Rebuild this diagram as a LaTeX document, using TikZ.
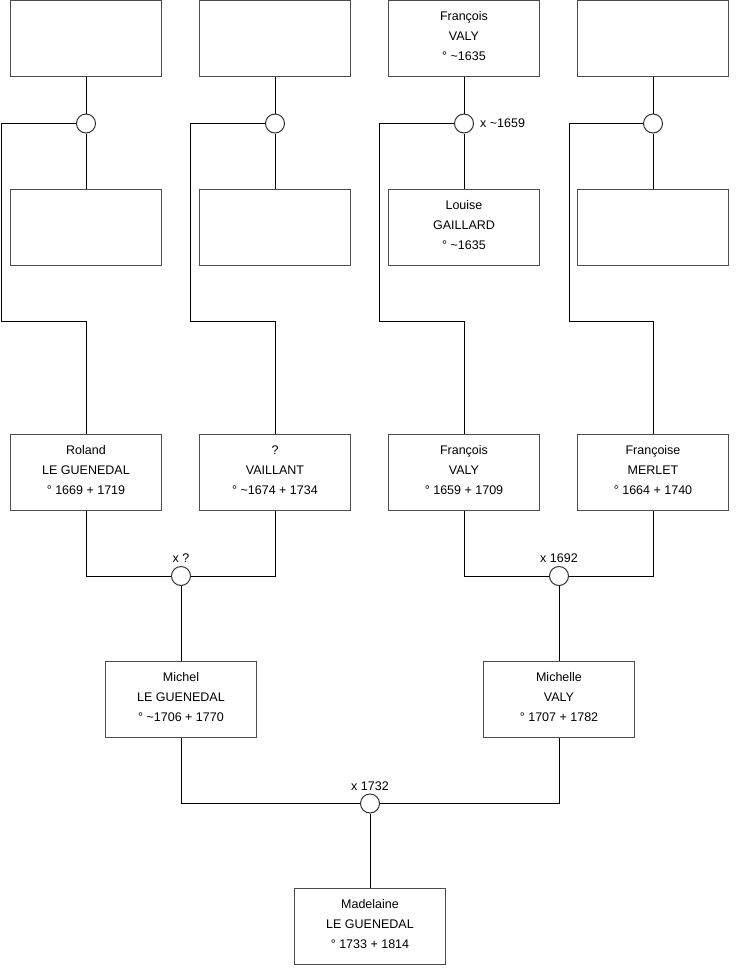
\documentclass[tikz,border=0pt]{standalone}
\usepackage{fontspec}
\setmainfont{Liberation Sans}
\begin{document}
\begin{tikzpicture}[x=1pt,y=-1pt,
  person/.style={draw=black!70, line width=1pt, fill=white, minimum width=151pt, minimum height=76pt, inner sep=0pt, align=center, text depth=5pt, font=\fontsize{12.5}{20}\selectfont},
  union/.style={circle, draw=black!80, line width=1pt, fill=white, minimum size=19pt, inner sep=0pt},
  link/.style={draw=black, line width=1pt},
  lbl/.style={inner sep=0pt, font=\fontsize{12.5}{14}\selectfont}]
\useasboundingbox (0,0) rectangle (740,975);
% top row
\node[person] (t1) at (86,38) {};
\node[person] (t2) at (275,38) {};
\node[person] (t3) at (464,38) {François\\VALY\\° \textasciitilde1635};
\node[person] (t4) at (653,38) {};
% second row
\node[person] (s1) at (86,227) {};
\node[person] (s2) at (275,227) {};
\node[person] (s3) at (464,227) {Louise\\GAILLARD\\° \textasciitilde1635};
\node[person] (s4) at (653,227) {};
% unions row 1
\node[union] (u1) at (86,123.5) {};
\node[union] (u2) at (275,123.5) {};
\node[union] (u3) at (464,123.5) {};
\node[union] (u4) at (653,123.5) {};
\node[lbl, anchor=west] (l3) at ([xshift=6pt]u3.east) {x \textasciitilde1659};
% third row
\node[person] (r1) at (86,472.5) {Roland\\LE GUENEDAL\\° 1669 + 1719};
\node[person] (r2) at (275,472.5) {?\\VAILLANT\\° \textasciitilde1674 + 1734};
\node[person] (r3) at (464,472.5) {François\\VALY\\° 1659 + 1709};
\node[person] (r4) at (653,472.5) {Françoise\\MERLET\\° 1664 + 1740};
% unions row 2
\node[union] (m1) at (181,576) {};
\node[union] (m2) at (559,576) {};
\node[lbl] (lm1) at (181,558) {x ?};
\node[lbl] (lm2) at (559,558) {x 1692};
% fourth row
\node[person] (c1) at (181,699.5) {Michel\\LE GUENEDAL\\° \textasciitilde1706 + 1770};
\node[person] (c2) at (559,699.5) {Michelle\\VALY\\° 1707 + 1782};
% final union
\node[union] (m3) at (370,803.5) {};
\node[lbl] (lm3) at (370,786) {x 1732};
\node[person] (d) at (370,926) {Madelaine\\LE GUENEDAL\\° 1733 + 1814};
% corner coordinates
\coordinate (k1) at (1.5,321.5);
\coordinate (k2) at (190.5,321.5);
\coordinate (k3) at (379.5,321.5);
\coordinate (k4) at (569,321.5);
% connectors top
\foreach \i in {1,2,3,4}{
  \draw[link] (t\i) -- (u\i);
  \draw[link] (u\i) -- (s\i);
  \draw[link] (u\i.west) -| (k\i) -| (r\i.north);
}
% connectors middle
\draw[link] (r1.south) |- (m1.west);
\draw[link] (r2.south) |- (m1.east);
\draw[link] (m1) -- (c1);
\draw[link] (r3.south) |- (m2.west);
\draw[link] (r4.south) |- (m2.east);
\draw[link] (m2) -- (c2);
% bottom
\draw[link] (c1.south) |- (m3.west);
\draw[link] (c2.south) |- (m3.east);
\draw[link] (m3) -- (d);
\end{tikzpicture}
\end{document}
